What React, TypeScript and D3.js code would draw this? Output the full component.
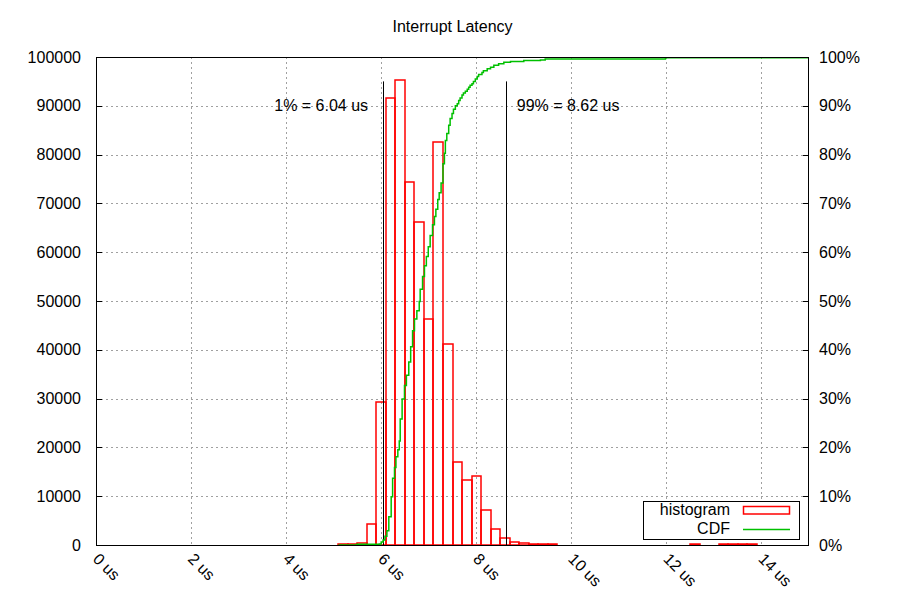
import React from "react";
import * as d3 from "d3";

const TITLE = "Interrupt Latency";
const X_TICKS = [0, 2, 4, 6, 8, 10, 12, 14];
const Y_TICKS = [0, 10000, 20000, 30000, 40000, 50000, 60000, 70000, 80000, 90000, 100000];
const Y2_TICKS = [0, 10, 20, 30, 40, 50, 60, 70, 80, 90, 100];

// histogram bins (center, us) and counts
const BIN_CENTERS = [5.2, 5.4, 5.6, 5.8, 6.0, 6.2, 6.4, 6.6, 6.8, 7.0, 7.2, 7.4, 7.6, 7.8, 8.0, 8.2, 8.4, 8.6, 8.8, 9.0, 9.2, 9.4, 9.6, 12.6, 13.2, 13.4, 13.6, 13.8];
const BIN_COUNTS = [150, 150, 350, 4240, 29240, 91530, 95220, 74320, 66130, 46250, 82520, 41190, 16940, 13250, 14140, 7100, 3210, 1370, 550, 350, 150, 150, 120, 150, 150, 150, 150, 150];
const BIN_WIDTH = 0.2;

// CDF (step after), x in us, y in percent
const CDF_X = [5.1, 5.49, 5.96, 6.0, 6.04, 6.08, 6.12, 6.16, 6.21, 6.24, 6.28, 6.31, 6.35, 6.38, 6.4, 6.44, 6.49, 6.53, 6.58, 6.62, 6.66, 6.7, 6.75, 6.8, 6.82, 6.87, 6.91, 6.95, 6.99, 7.03, 7.08, 7.12, 7.15, 7.19, 7.22, 7.26, 7.3, 7.33, 7.35, 7.38, 7.42, 7.45, 7.49, 7.52, 7.56, 7.6, 7.63, 7.66, 7.7, 7.73, 7.77, 7.81, 7.84, 7.87, 7.91, 7.94, 7.98, 8.02, 8.05, 8.12, 8.15, 8.23, 8.3, 8.37, 8.47, 8.58, 8.72, 9.0, 9.35, 9.45, 11.98, 15];
const CDF_Y = [0, 0.15, 0.2, 0.6, 1.0, 1.8, 2.9, 5.8, 9.9, 13.7, 15.9, 18.1, 19.5, 21.3, 25.8, 29.9, 32.7, 34.8, 37.5, 40.6, 43.9, 46.3, 48.0, 49.9, 52.4, 55.0, 57.2, 59.1, 61.1, 63.4, 65.6, 67.3, 68.8, 70.8, 72.2, 74.2, 78.1, 80.3, 82.9, 84.3, 86.0, 87.4, 88.4, 89.3, 90.0, 90.4, 91.1, 91.6, 92.2, 92.6, 93.0, 93.4, 93.8, 94.2, 94.5, 95.0, 95.5, 96.0, 96.4, 96.8, 97.2, 97.6, 97.9, 98.3, 98.6, 98.9, 99.1, 99.3, 99.36, 99.57, 99.85, 99.85];

const P1 = 6.04;
const P99 = 8.62;
const P_LINE_TOP = 95;
const P_LABEL_Y = 90;
const P1_LABEL = "1% = 6.04 us";
const P99_LABEL = "99% = 8.62 us";
const LEGEND = ["histogram", "CDF"];

const FONT = "'Liberation Sans', Arial, sans-serif";
const FS = 16;

export default function App() {
  const W = 900, H = 600;
  const L = 96, R = 809, T = 57, B = 545;
  const x = d3.scaleLinear().domain([0, 15]).range([L, R]);
  const y = d3.scaleLinear().domain([0, 100000]).range([B, T]);
  const y2 = d3.scaleLinear().domain([0, 100]).range([B, T]);
  const snap = (v: number) => Math.round(v) + 0.5;

  const cdfPts: [number, number][] = CDF_X.map((v, i) => [v, CDF_Y[i]]);
  const cdfPath = d3.line<[number, number]>()
    .x((d) => x(d[0]))
    .y((d) => y2(d[1]))
    .curve(d3.curveStepAfter)(cdfPts) || "";

  const grid = "#a0a0a0";

  return (
    <div style={{ position: "absolute", left: 0, top: 0 }}>
      <svg width={W} height={H} style={{ display: "block", background: "#fff" }} fontFamily={FONT}>
        <rect x={0} y={0} width={W} height={H} fill="#fff" />
        {/* grid */}
        {Y_TICKS.slice(1, -1).map((t) => (
          <line key={"gy" + t} x1={L} x2={R} y1={snap(y(t))} y2={snap(y(t))} stroke={grid} strokeDasharray="2,3" />
        ))}
        {X_TICKS.slice(1).map((t) => (
          <line key={"gx" + t} x1={snap(x(t))} x2={snap(x(t))} y1={T} y2={B} stroke={grid} strokeDasharray="2,3" />
        ))}
        {/* histogram */}
        {BIN_CENTERS.map((c, i) => {
          const x0 = Math.round(x(c - BIN_WIDTH / 2));
          const x1 = Math.round(x(c + BIN_WIDTH / 2));
          const yt = Math.round(y(BIN_COUNTS[i]));
          return (
            <rect key={"b" + i} x={x0} y={yt} width={x1 - x0} height={B - yt} fill="none" stroke="#ff0000" strokeWidth={1.5} />
          );
        })}
        {/* percentile lines */}
        <line x1={snap(x(P1))} x2={snap(x(P1))} y1={B} y2={y2(P_LINE_TOP)} stroke="#000" strokeWidth={1} />
        <line x1={snap(x(P99))} x2={snap(x(P99))} y1={B} y2={y2(P_LINE_TOP)} stroke="#000" strokeWidth={1} />
        {/* CDF */}
        <path d={cdfPath} fill="none" stroke="#00c000" strokeWidth={1.5} />
        {/* frame */}
        <rect x={L + 0.5} y={T + 0.5} width={R - L - 1} height={B - T} fill="none" stroke="#000" strokeWidth={1} />
        {/* y ticks */}
        {Y_TICKS.map((t) => (
          <g key={"yt" + t}>
            <line x1={L} x2={L + 6} y1={snap(y(t))} y2={snap(y(t))} stroke="#000" />
            <text x={81} y={y(t)} dy="0.35em" textAnchor="end" fontSize={FS} fill="#000">{t}</text>
          </g>
        ))}
        {Y2_TICKS.map((t) => (
          <g key={"y2t" + t}>
            <line x1={R - 6} x2={R} y1={snap(y2(t))} y2={snap(y2(t))} stroke="#000" />
            <text x={819} y={y2(t)} dy="0.35em" textAnchor="start" fontSize={FS} fill="#000">{t + "%"}</text>
          </g>
        ))}
        {/* x tick labels */}
        {X_TICKS.map((t) => (
          <text key={"xt" + t} transform={`translate(${x(t) - 4},${560}) rotate(45)`} fontSize={FS} fill="#000">{t + " us"}</text>
        ))}
        {/* title */}
        <text x={(L + R) / 2} y={32} textAnchor="middle" fontSize={FS} fill="#000">{TITLE}</text>
        {/* percentile labels */}
        <text x={x(P1) - 15} y={y2(P_LABEL_Y)} dy="0.35em" textAnchor="end" fontSize={FS} fill="#000">{P1_LABEL}</text>
        <text x={x(P99) + 11} y={y2(P_LABEL_Y)} dy="0.35em" textAnchor="start" fontSize={FS} fill="#000">{P99_LABEL}</text>
        {/* legend */}
        <rect x={643.5} y={501.5} width={156} height={38} fill="#fff" stroke="#000" strokeWidth={1} />
        <text x={730} y={515} textAnchor="end" fontSize={FS} fill="#000">{LEGEND[0]}</text>
        <rect x={743.5} y={506.5} width={46} height={7.5} fill="none" stroke="#ff0000" strokeWidth={1.5} />
        <text x={730} y={534} textAnchor="end" fontSize={FS} fill="#000">{LEGEND[1]}</text>
        <line x1={743} x2={790} y1={529.5} y2={529.5} stroke="#00c000" strokeWidth={1.5} />
      </svg>
    </div>
  );
}
